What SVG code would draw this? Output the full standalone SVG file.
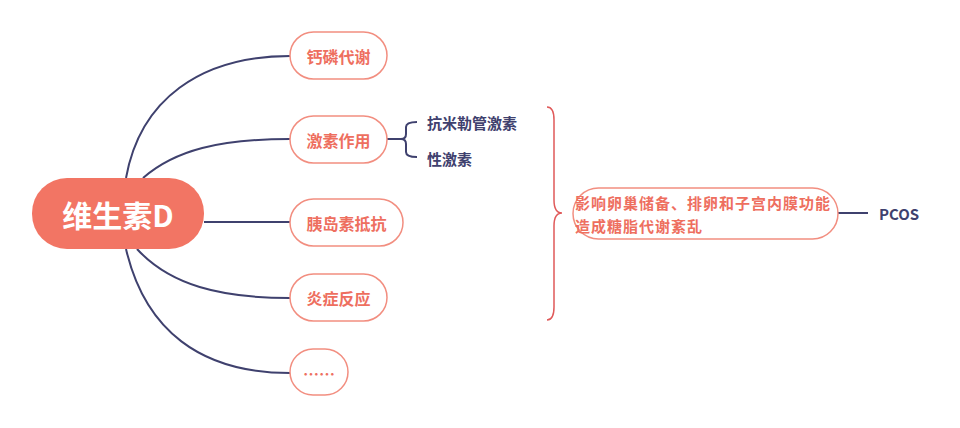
<svg xmlns="http://www.w3.org/2000/svg" width="960" height="428" viewBox="0 0 960 428">
<style>
text{font-family:"Noto Sans CJK SC","Noto Sans",sans-serif;font-weight:bold}
.node rect{fill:#fff;stroke:#F28E80;stroke-width:1.5}
.nt{fill:#EE6F5F;font-size:16px;text-anchor:middle;dominant-baseline:central}
.conn{fill:none;stroke:#3F416E;stroke-width:2}
.sub{fill:#3F416E;font-size:15px;dominant-baseline:central}
.bt{fill:#EE6F5F;font-size:15px;letter-spacing:1px;dominant-baseline:central}
</style>
<rect width="960" height="428" fill="#fff"/>
<g id="connectors">
<path class="conn" d="M126,178 C140,100 200,56 290,56"/>
<path class="conn" d="M143,178 C175,150 220,139 290,139"/>
<path class="conn" d="M204,222 L290,222"/>
<path class="conn" d="M137,249 C170,285 220,298 290,298"/>
<path class="conn" d="M126,249 C145,330 200,373 290,373"/>
<path class="conn" stroke-width="1.5" d="M387,139 L401,139 Q406,139 406,134 L406,127 Q406,122 417,122 M401,139 Q406,139 406,144 L406,152 Q406,157 417,157"/>
<path fill="none" stroke="#E05A5A" stroke-width="1.5" d="M547,107 Q554,107 554,120 L554,200 Q554,213 562,213 Q554,213 554,226 L554,307 Q554,320 547,320"/>
<path class="conn" stroke-width="1.5" d="M838,213 L868,213"/>
</g>
<g id="root">
<rect x="32" y="178" width="172" height="71" rx="35" fill="#F27564"/>
<text x="118" y="214" font-size="30" fill="#fff" text-anchor="middle" dominant-baseline="central">维生素D</text>
</g>
<g id="n1" class="node"><rect x="290" y="32" width="97" height="47" rx="23.5"/><text class="nt" x="338.5" y="56">钙磷代谢</text></g>
<g id="n2" class="node"><rect x="290" y="116" width="97" height="47" rx="23.5"/><text class="nt" x="338.5" y="140">激素作用</text></g>
<g id="n3" class="node"><rect x="290" y="199" width="113" height="47" rx="23.5"/><text class="nt" x="346.5" y="223">胰岛素抵抗</text></g>
<g id="n4" class="node"><rect x="290" y="274" width="97" height="47" rx="23.5"/><text class="nt" x="338.5" y="298">炎症反应</text></g>
<g id="n5" class="node"><rect x="290" y="349" width="58" height="46" rx="23"/><text class="nt" x="319" y="373" font-weight="normal" font-size="14">……</text></g>
<g id="s1"><text class="sub" x="427" y="122">抗米勒管激素</text></g>
<g id="s2"><text class="sub" x="427" y="158">性激素</text></g>
<g id="big" class="node"><rect x="573" y="188" width="265" height="51" rx="25.5"/>
<text class="bt" x="575" y="202">影响卵巢储备、排卵和子宫内膜功能</text>
<text class="bt" x="575" y="225">造成糖脂代谢紊乱</text></g>
<g id="pcos"><text class="sub" x="879" y="213" font-size="14">PCOS</text></g>
</svg>
